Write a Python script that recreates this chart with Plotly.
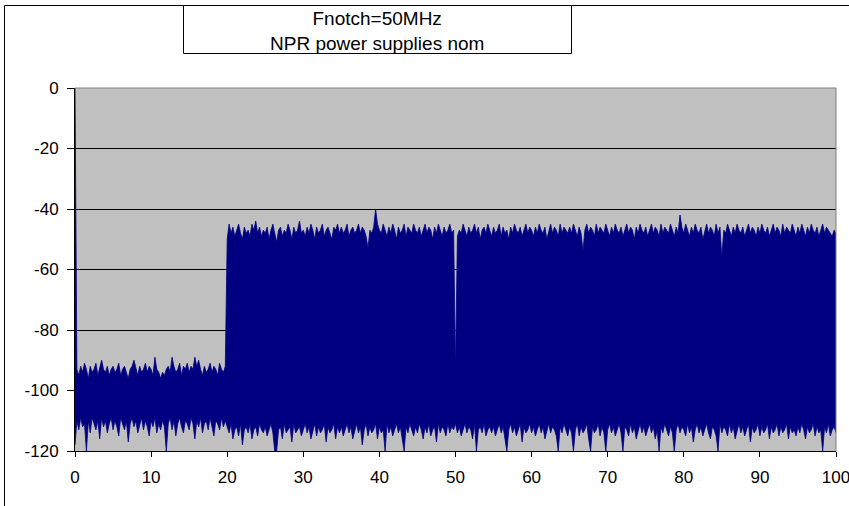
import plotly.graph_objects as go

# ---------------- data ----------------
title_lines = ["Fnotch=50MHz", "NPR power supplies nom"]

f_start = 0.0      # MHz
f_step = 0.25      # MHz, sampling grid of the envelopes
x_ticks = [0, 10, 20, 30, 40, 50, 60, 70, 80, 90, 100]
y_ticks = [0, -20, -40, -60, -80, -100, -120]
y_tick_text = ["0", "-20", "-40", "-60", "-80", "-100", "-120"]

# upper envelope of the spectrum (dB), one value every 0.25 MHz from 0 to 100 MHz
upper = [
    0, -93, -95, -92, -94, -91, -93, -96, -92, -94, -93, -91, -95, -92, -90, -93, -94, -92, -95, -93,
    -92, -94, -93, -91, -95, -93, -92, -94, -96, -93, -92, -90, -93, -95, -92, -94, -93, -91, -94, -92,
    -93, -95, -89, -93, -94, -96, -94, -95, -93, -92, -94, -89, -92, -94, -93, -91, -95, -92, -93, -91,
    -94, -92, -93, -89, -92, -90, -93, -95, -92, -94, -93, -91, -94, -92, -93, -95, -91, -93, -94, -92,
    -50, -45, -48, -46, -49, -47, -45, -48, -50, -46, -48, -47, -49, -45, -47, -44, -48, -46, -49, -47,
    -48, -46, -50, -47, -45, -48, -51, -47, -46, -49, -47, -48, -45, -47, -50, -46, -48, -47, -44, -48,
    -47, -49, -46, -48, -45, -47, -50, -46, -48, -47, -45, -49, -47, -46, -48, -50, -46, -47, -45, -48,
    -46, -48, -47, -45, -49, -47, -46, -48, -47, -45, -48, -46, -47, -49, -53, -47, -48, -46, -40, -45,
    -47, -48, -45, -47, -49, -46, -48, -45, -47, -50, -46, -48, -47, -45, -49, -46, -47, -48, -45, -47,
    -48, -46, -49, -47, -45, -48, -46, -47, -50, -46, -48, -45, -47, -49, -46, -48, -47, -45, -48, -47,
    -93, -49, -47, -48, -45, -47, -49, -46, -48, -47, -45, -48, -46, -50, -47, -46, -48, -45, -47, -49,
    -46, -48, -47, -45, -49, -46, -48, -47, -50, -46, -48, -45, -47, -48, -46, -49, -47, -45, -48, -46,
    -47, -49, -46, -48, -45, -47, -48, -46, -50, -47, -45, -48, -46, -47, -49, -45, -48, -46, -47, -48,
    -46, -48, -45, -47, -49, -46, -48, -54, -47, -45, -48, -46, -47, -49, -45, -48, -46, -47, -48, -45,
    -47, -49, -46, -48, -45, -47, -48, -46, -49, -47, -45, -48, -46, -47, -50, -46, -48, -45, -47, -48,
    -46, -49, -47, -45, -48, -46, -47, -49, -45, -48, -46, -47, -48, -45, -47, -49, -46, -48, -42, -46,
    -48, -45, -47, -49, -46, -48, -45, -47, -48, -46, -50, -47, -45, -48, -46, -47, -49, -45, -48, -46,
    -56, -47, -48, -45, -47, -49, -46, -48, -45, -47, -48, -46, -49, -47, -45, -48, -46, -47, -49, -46,
    -48, -45, -47, -48, -46, -49, -47, -45, -48, -46, -47, -49, -45, -48, -46, -47, -48, -45, -47, -49,
    -46, -48, -45, -47, -49, -46, -48, -45, -47, -48, -46, -49, -47, -45, -48, -46, -47, -48, -49, -47,
    -48,
]

# lower envelope of the spectrum (dB), same grid
lower = [
    -118, -110, -113, -109, -112, -111, -120, -110, -114, -109, -111, -113, -110, -116, -109, -112, -110, -114, -111, -109,
    -113, -110, -112, -115, -109, -111, -113, -110, -117, -111, -109, -112, -110, -114, -111, -109, -113, -110, -112, -115,
    -110, -112, -109, -114, -111, -113, -110, -112, -120, -111, -109, -113, -110, -115, -111, -109, -112, -114, -110, -111,
    -113, -109, -111, -116, -110, -112, -109, -114, -111, -110, -113, -109, -112, -115, -110, -111, -113, -109, -112, -110,
    -112, -114, -111, -116, -113, -112, -115, -111, -118, -113, -112, -114, -111, -116, -113, -112, -115, -111, -113, -114,
    -112, -115, -113, -111, -114, -120, -120, -113, -112, -116, -111, -114, -113, -112, -117, -111, -114, -113, -112, -115,
    -113, -111, -114, -112, -116, -113, -111, -115, -112, -114, -113, -111, -117, -112, -114, -113, -111, -116, -112, -114,
    -112, -115, -113, -111, -114, -112, -116, -113, -111, -114, -112, -118, -113, -111, -115, -112, -114, -113, -111, -116,
    -112, -114, -113, -120, -111, -114, -112, -115, -113, -111, -114, -112, -116, -120, -112, -114, -111, -113, -115, -112,
    -114, -111, -113, -116, -112, -114, -111, -115, -113, -112, -117, -111, -114, -112, -113, -115, -111, -114, -112, -113,
    -111, -114, -112, -115, -113, -111, -114, -112, -113, -116, -111, -120, -113, -112, -114, -111, -115, -113, -112, -114,
    -112, -115, -113, -111, -114, -112, -116, -120, -113, -111, -114, -112, -115, -113, -111, -117, -112, -114, -113, -111,
    -114, -112, -115, -113, -111, -114, -112, -116, -113, -111, -114, -112, -113, -115, -120, -112, -114, -111, -113, -115,
    -112, -114, -120, -113, -111, -115, -112, -114, -113, -111, -116, -120, -112, -114, -113, -111, -115, -112, -114, -120,
    -113, -111, -114, -112, -115, -113, -111, -114, -120, -112, -113, -115, -111, -114, -112, -116, -113, -111, -114, -112,
    -115, -113, -111, -114, -112, -116, -113, -120, -112, -114, -111, -113, -115, -112, -114, -120, -113, -111, -114, -112,
    -113, -115, -111, -114, -112, -117, -113, -111, -114, -112, -115, -113, -111, -114, -116, -112, -113, -115, -120, -111,
    -114, -112, -113, -115, -111, -114, -112, -116, -113, -111, -114, -112, -115, -113, -111, -117, -112, -114, -113, -111,
    -115, -112, -114, -113, -111, -116, -112, -114, -113, -111, -115, -112, -114, -113, -111, -116, -112, -114, -113, -115,
    -112, -114, -111, -113, -116, -112, -114, -113, -111, -115, -112, -114, -113, -120, -112, -114, -111, -115, -113, -112,
    -114,
]

freq = [f_start + i * f_step for i in range(len(upper))]

# ---------------- figure ----------------
NAVY = "#000080"
W, H = 849, 506
L, R, T, B = 75, 13, 88, 55
pw, ph = W - L - R, H - T - B


def px(xp):
    return (xp - L) / pw


def py(yp):
    return (H - B - yp) / ph


fig = go.Figure()
fig.add_trace(go.Scatter(x=freq, y=lower, mode="lines",
                         line=dict(color=NAVY, width=0.8), hoverinfo="skip"))
fig.add_trace(go.Scatter(x=freq, y=upper, mode="lines", fill="tonexty",
                         fillcolor=NAVY, line=dict(color=NAVY, width=0.8),
                         hoverinfo="skip"))

font_name = "Liberation Sans, Arial, sans-serif"

fig.update_layout(
    width=W, height=H,
    margin=dict(l=L, r=R, t=T, b=B, pad=0),
    paper_bgcolor="white",
    plot_bgcolor="#C0C0C0",
    showlegend=False,
    font=dict(family=font_name, size=17, color="black"),
    xaxis=dict(range=[0, 100], tickvals=x_ticks, ticks="outside", ticklen=5,
               tickcolor="black", showgrid=False, zeroline=False,
               showline=True, linecolor="black", linewidth=1,
               tickfont=dict(size=17), ticklabelstandoff=6, automargin=False,
               ticklabeloverflow="allow"),
    yaxis=dict(range=[-120, 0], tickvals=y_ticks, ticktext=y_tick_text,
               ticks="outside", ticklen=7,
               tickcolor="black", showgrid=True, gridcolor="black", gridwidth=1,
               zeroline=False, showline=True, linecolor="black", linewidth=1,
               tickfont=dict(size=17), ticklabelstandoff=5, automargin=False),
    shapes=[
        # plot-area border (top and right) in grey
        dict(type="line", xref="x domain", yref="y domain", x0=0, x1=1, y0=1, y1=1,
             line=dict(color="#808080", width=1), layer="above"),
        dict(type="line", xref="x domain", yref="y domain", x0=1, x1=1, y0=0, y1=1,
             line=dict(color="#808080", width=1), layer="above"),
        # chart border
        dict(type="rect", xref="paper", yref="paper",
             x0=px(4.5), x1=px(W + 5), y0=py(H + 5), y1=py(5.5),
             line=dict(color="black", width=1), fillcolor="rgba(0,0,0,0)",
             layer="below"),
        # title box
        dict(type="rect", xref="paper", yref="paper",
             x0=px(183.5), x1=px(571.5), y0=py(53.5), y1=py(5.5),
             line=dict(color="black", width=1), fillcolor="white", layer="above"),
    ],
    annotations=[
        dict(xref="paper", yref="paper", x=px(377), y=py(31),
             text="<br>".join(title_lines), showarrow=False,
             xanchor="center", yanchor="middle",
             font=dict(family=font_name, size=19, color="black")),
    ],
)

fig.write_html("out.html", config={"displayModeBar": False},
               post_script="document.body.style.margin='0';document.body.style.overflow='hidden';")
